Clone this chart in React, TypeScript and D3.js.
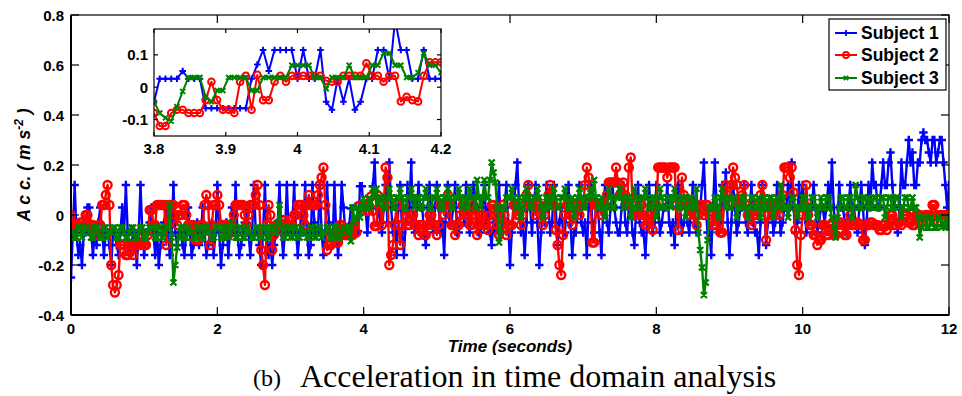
import React from 'react';
import * as d3 from 'd3';

// ---------- data ----------
const T_STEP = 0.025; // seconds between samples in the main view
const subject1 = [
  -0.25, -0.07, 0.12, -0.07, -0.16, -0.12, -0.2, -0.07, -0.07, 0.03, 0.03, -0.07, -0.16, -0.07, -0.12, -0.03, 0.03, -0.07, -0.16, -0.07, -0.07, -0.12, -0.2, -0.07, -0.07, -0.12, -0.16, -0.07, 0.03, -0.07, 0.12, -0.07, -0.16, -0.12, -0.07, -0.12, -0.2, -0.07, 0.12, -0.07,
  -0.16, -0.07, -0.07, -0.03, 0.03, -0.07, -0.16, -0.07, -0.2, -0.12, -0.07, -0.03, 0.03, -0.07, -0.16, -0.07, 0.12, -0.07, -0.12, -0.07, -0.07, -0.12, -0.16, -0.07, 0.03, -0.07, -0.16, -0.12, -0.07, -0.03, -0.12, -0.07, 0.03, -0.07, -0.16, -0.12, -0.07, -0.03, -0.16, -0.07,
  0.12, -0.07, -0.2, -0.12, -0.07, -0.03, -0.16, -0.07, 0.03, -0.07, 0.12, -0.07, -0.16, -0.12, -0.07, -0.03, 0.03, -0.07, -0.16, -0.07, 0.12, -0.07, -0.07, -0.12, -0.2, -0.07, 0.12, -0.07, -0.16, -0.12, -0.2, -0.12, -0.07, -0.03, 0.12, -0.07, -0.16, -0.07, 0.12, -0.07,
  -0.07, -0.03, 0.12, -0.07, -0.16, -0.07, 0.03, -0.07, 0.12, -0.07, -0.16, -0.12, 0.12, -0.03, -0.07, -0.07, 0.12, -0.07, -0.16, -0.07, 0.12, -0.03, -0.07, -0.12, 0.12, -0.07, -0.16, -0.07, 0.12, 0.03, -0.07, -0.07, -0.045, 0.026, 0.026, -0.065, -0.065, -0.065, 0.115, 0.115,
  0.026, 0.026, -0.07, 0.026, 0.026, 0.115, 0.21, 0.026, 0.026, -0.03, -0.07, 0.03, 0.12, -0.03, 0.21, 0.03, -0.07, -0.03, -0.16, 0.03, 0.12, -0.07, -0.16, -0.03, 0.12, 0.03, 0.21, -0.03, -0.07, 0.03, 0.12, 0.03, 0.03, -0.07, -0.12, 0.03, 0.12, -0.03, -0.07, 0.03,
  0.12, 0.03, -0.07, -0.03, -0.16, 0.03, 0.12, -0.03, -0.03, 0.03, 0.12, -0.07, -0.07, 0.03, 0.03, -0.03, 0.12, -0.03, -0.07, 0.03, 0.12, 0.03, -0.03, -0.07, -0.07, 0.03, 0.12, -0.03, 0.03, -0.07, -0.12, -0.03, -0.07, 0.03, 0.12, -0.03, -0.07, 0.03, 0.12, -0.03,
  -0.2, -0.07, 0.03, 0.12, 0.21, 0.03, -0.07, -0.03, -0.16, -0.03, 0.12, 0.03, -0.07, 0.03, 0.12, -0.03, -0.2, -0.07, 0.03, -0.03, 0.12, 0.03, -0.07, -0.03, 0.12, 0.03, -0.12, -0.03, 0.03, -0.07, -0.07, 0.03, 0.12, -0.03, -0.16, -0.07, -0.07, 0.03, 0.12, -0.03,
  -0.07, -0.03, -0.16, 0.03, 0.12, -0.03, -0.07, 0.03, 0.03, -0.07, -0.16, 0.03, 0.12, -0.03, -0.07, 0.03, 0.12, 0.03, -0.03, -0.07, -0.07, 0.03, 0.12, -0.03, -0.07, 0.03, 0.03, -0.07, -0.12, 0.03, 0.12, -0.03, -0.07, -0.07, -0.16, -0.03, 0.12, 0.03, -0.07, -0.03,
  0.12, 0.03, -0.07, -0.03, 0.03, 0.03, 0.12, -0.03, -0.07, -0.03, -0.12, 0.03, 0.12, 0.03, -0.07, -0.03, 0.03, -0.03, -0.07, 0.03, 0.12, -0.03, -0.07, 0.03, 0.03, 0.12, 0.21, 0.03, -0.07, -0.07, -0.16, 0.03, 0.21, 0.03, -0.07, -0.03, 0.12, 0.03, 0.17, -0.03,
  -0.16, -0.03, 0.12, 0.03, -0.07, -0.03, 0.03, 0.03, 0.12, -0.03, -0.07, 0.03, 0.12, -0.03, -0.07, -0.07, -0.16, -0.03, 0.12, 0.03, -0.12, -0.03, 0.03, 0.03, -0.07, -0.03, 0.12, 0.03, -0.07, -0.03, 0.03, 0.03, 0.12, 0.03, 0.21, 0.03, -0.07, -0.03, 0.12, 0.03,
  0.12, 0.03, -0.07, -0.03, 0.03, 0.03, 0.12, 0.03, -0.07, -0.03, 0.03, 0.03, -0.03, 0.03, 0.12, 0.03, 0.21, 0.03, -0.07, -0.03, 0.12, 0.03, 0.03, -0.03, -0.07, 0.03, 0.12, 0.03, 0.03, -0.03, -0.07, 0.03, 0.12, 0.03, -0.12, -0.03, 0.12, 0.03, 0.21, 0.12,
  0.12, 0.03, 0.03, 0.12, 0.21, 0.12, 0.12, 0.21, 0.25, 0.12, 0.03, -0.03, -0.07, 0.03, 0.21, 0.12, 0.12, 0.21, 0.3, 0.21, 0.25, 0.12, 0.12, 0.21, 0.21, 0.3, 0.33, 0.3, 0.3, 0.25, 0.21, 0.3, 0.3, 0.21, 0.25, 0.3, 0.3, 0.21, 0.12, 0.03,
  0.12,
];
const subject2 = [
  0.0, -0.04, -0.04, -0.04, -0.04, -0.03, -0.03, -0.04, 0.0, 0.0, -0.04, -0.04, -0.04, -0.08, -0.08, -0.04, -0.04, 0.04, 0.04, 0.08, 0.12, 0.04, -0.2, -0.28, -0.31, -0.28, -0.24, -0.12, -0.12, -0.12, -0.16, -0.16, -0.12, -0.12, -0.16, -0.12, -0.12, -0.12, -0.12, -0.08,
  -0.12, -0.12, -0.08, 0.02, 0.02, -0.04, -0.04, 0.04, 0.04, 0.04, 0.04, 0.04, -0.12, 0.04, 0.04, 0.04, 0.04, 0.0, -0.04, 0.0, 0.0, 0.04, 0.04, 0.0, -0.04, -0.04, -0.04, -0.04, -0.1, -0.1, -0.1, -0.04, -0.04, 0.04, 0.08, 0.04, -0.12, -0.04, 0.04, 0.04,
  0.08, 0.04, -0.04, -0.04, -0.04, -0.04, -0.08, -0.04, -0.04, 0.0, 0.04, 0.04, 0.04, 0.04, 0.04, 0.0, -0.04, 0.0, 0.04, 0.04, 0.04, 0.08, 0.12, 0.04, -0.14, -0.2, -0.28, -0.04, 0.04, 0.0, -0.14, -0.08, -0.04, -0.04, -0.06, -0.04, -0.02, -0.02, -0.04, -0.04,
  -0.04, -0.04, 0.0, 0.0, 0.04, 0.04, 0.04, 0.0, -0.04, 0.04, 0.08, 0.04, 0.04, 0.04, 0.04, 0.08, 0.12, 0.15, 0.19, 0.04, -0.14, -0.12, -0.12, -0.08, -0.08, -0.11, -0.11, -0.04, -0.04, -0.08, -0.08, -0.08, -0.08, -0.08, -0.08, -0.04, -0.07, 0.035, 0.038, 0.017,
  0.035, 0.035, 0.017, 0.035, 0.074, 0.017, -0.044, -0.044, 0.077, 0.04, -0.04, 0.04, 0.19, 0.15, -0.2, -0.16, -0.12, -0.04, 0.04, -0.04, -0.12, -0.04, 0.04, 0.0, -0.04, -0.04, 0.0, 0.0, -0.04, -0.04, -0.08, -0.04, -0.04, -0.08, -0.08, -0.04, 0.0, 0.0, -0.04, -0.04,
  -0.08, -0.04, 0.04, 0.04, 0.0, 0.04, 0.08, 0.04, -0.04, -0.04, -0.08, -0.04, -0.04, 0.0, 0.04, 0.04, 0.0, 0.0, -0.04, -0.04, 0.04, 0.0, -0.08, -0.04, 0.0, 0.0, -0.04, -0.04, -0.06, 0.0, 0.04, 0.04, 0.0, -0.04, -0.08, -0.04, 0.04, 0.0, -0.08, -0.04,
  -0.04, -0.04, 0.04, 0.04, 0.0, 0.0, -0.04, 0.0, 0.04, 0.08, 0.12, 0.04, 0.04, 0.04, 0.0, 0.04, 0.04, 0.0, -0.04, 0.0, 0.04, 0.08, 0.12, 0.04, 0.04, -0.06, -0.12, -0.2, -0.24, -0.08, 0.0, 0.04, 0.04, 0.0, -0.04, 0.0, 0.04, 0.04, 0.0, 0.04,
  0.04, 0.12, 0.19, 0.15, 0.07, -0.11, -0.11, 0.04, 0.04, 0.04, 0.0, 0.04, 0.04, 0.08, 0.13, 0.13, 0.13, 0.13, 0.19, 0.13, 0.08, 0.08, 0.13, 0.08, 0.04, 0.19, 0.23, 0.04, 0.0, 0.0, 0.0, 0.04, 0.04, 0.0, -0.04, -0.04, 0.0, 0.0, -0.06, 0.04,
  0.04, 0.19, 0.19, 0.19, 0.19, 0.19, 0.15, 0.19, 0.19, 0.19, 0.19, 0.04, -0.06, 0.04, 0.15, 0.08, 0.04, 0.04, 0.0, 0.04, 0.04, 0.0, -0.04, 0.0, 0.04, 0.04, 0.0, 0.04, 0.04, 0.0, 0.0, -0.04, -0.04, 0.0, 0.0, -0.07, -0.07, 0.04, 0.12, 0.08,
  0.05, 0.12, 0.19, 0.15, 0.12, 0.04, 0.04, 0.08, 0.12, 0.04, 0.0, 0.0, -0.04, 0.0, 0.0, 0.04, 0.04, 0.08, 0.12, 0.04, -0.1, 0.0, 0.04, 0.04, 0.0, 0.04, 0.04, 0.0, 0.04, 0.08, 0.19, 0.19, 0.19, 0.15, 0.19, 0.09, -0.06, -0.2, -0.24, -0.08,
  0.0, 0.04, 0.12, 0.0, -0.04, -0.04, -0.08, -0.08, -0.12, -0.1, -0.1, -0.04, -0.04, -0.08, -0.08, -0.04, -0.04, -0.08, -0.08, -0.04, -0.03, -0.03, -0.04, -0.08, -0.08, -0.04, 0.0, -0.04, -0.04, -0.04, -0.03, -0.04, -0.04, -0.1, -0.1, -0.04, -0.04, -0.03, -0.03, -0.04,
  -0.04, -0.04, -0.06, -0.06, -0.04, -0.04, -0.06, -0.04, 0.0, 0.0, -0.04, -0.04, -0.03, -0.03, -0.04, 0.0, 0.0, 0.0, -0.03, -0.03, -0.04, -0.04, 0.0, 0.0, 0.0, -0.03, -0.03, 0.0, 0.0, 0.0, 0.0, 0.04, 0.04, 0.0, -0.03, 0.0, 0.0, 0.0, 0.0, 0.0,
  0.0,
];
const subject3 = [
  -0.07, -0.07, -0.09, -0.09, -0.05, -0.05, -0.09, -0.07, -0.05, -0.05, -0.07, -0.09, -0.09, -0.05, -0.05, -0.07, -0.09, -0.09, -0.05, -0.05, -0.09, -0.07, -0.07, -0.05, -0.05, -0.09, -0.09, -0.05, -0.05, -0.07, -0.09, -0.09, -0.07, -0.05, -0.05, -0.09, -0.09, -0.07, -0.05, -0.05,
  -0.09, -0.09, -0.07, -0.05, -0.05, -0.05, -0.09, -0.09, -0.05, -0.05, -0.09, -0.07, -0.05, -0.05, 0.04, -0.09, -0.27, -0.2, -0.13, -0.09, -0.05, -0.05, -0.09, -0.09, -0.05, -0.07, -0.07, -0.09, -0.09, -0.05, -0.05, -0.09, -0.09, -0.05, -0.05, -0.07, -0.07, -0.09, -0.09, -0.05,
  -0.05, -0.05, -0.09, -0.09, -0.05, -0.05, -0.09, -0.07, -0.03, -0.05, -0.09, -0.09, -0.05, -0.05, -0.09, -0.09, -0.05, -0.07, -0.07, -0.09, -0.09, -0.05, -0.05, -0.09, -0.09, -0.05, -0.05, -0.09, -0.09, -0.05, -0.05, -0.07, -0.07, -0.03, 0.04, -0.05, -0.09, -0.09, -0.05, -0.05,
  -0.09, -0.09, -0.05, -0.05, -0.09, -0.09, -0.05, -0.07, -0.07, -0.09, -0.09, -0.05, -0.05, -0.09, -0.09, -0.05, -0.05, -0.09, -0.07, -0.07, -0.05, -0.05, -0.09, -0.09, -0.05, -0.05, -0.09, -0.09, -0.07, -0.05, -0.05, -0.07, -0.045, -0.105, 0.03, -0.03, -0.01, 0.03, -0.01, 0.03,
  0.068, 0.03, 0.03, 0.068, 0.03, 0.105, 0.068, 0.105, 0.045, 0.07, 0.07, 0.03, 0.03, 0.07, 0.105, 0.07, 0.03, 0.03, 0.07, 0.07, 0.105, 0.07, 0.03, 0.03, 0.07, 0.07, 0.105, 0.07, 0.03, 0.07, 0.07, 0.03, 0.03, 0.07, 0.105, 0.07, 0.03, 0.03, 0.07, 0.07,
  0.105, 0.07, 0.03, 0.03, 0.07, 0.07, 0.105, 0.07, 0.03, 0.03, 0.07, 0.07, 0.105, 0.07, 0.03, 0.07, 0.07, 0.03, 0.105, 0.07, 0.07, 0.03, 0.14, 0.07, 0.03, 0.07, 0.14, 0.07, 0.07, 0.14, 0.21, 0.17, 0.13, 0.03, -0.11, -0.07, 0.03, 0.03, 0.07, 0.07,
  0.07, 0.105, 0.07, 0.03, 0.03, 0.07, -0.01, 0.03, 0.07, 0.105, 0.07, 0.03, 0.03, 0.07, 0.07, 0.105, 0.07, 0.03, -0.01, 0.03, 0.07, 0.07, 0.03, 0.07, 0.105, 0.07, 0.03, 0.03, 0.07, 0.07, 0.105, 0.07, 0.03, 0.03, 0.07, -0.01, 0.03, 0.07, 0.105, 0.07,
  0.03, 0.03, 0.07, 0.07, 0.105, 0.07, 0.14, 0.07, 0.03, 0.03, 0.07, 0.03, -0.01, 0.03, 0.105, 0.07, 0.03, 0.03, 0.07, 0.07, 0.105, 0.07, 0.03, 0.03, 0.07, 0.07, -0.01, 0.03, 0.105, 0.07, 0.03, 0.03, 0.07, 0.07, 0.105, 0.07, 0.03, 0.03, 0.07, 0.07,
  -0.01, 0.03, 0.105, 0.07, 0.03, 0.03, 0.07, 0.07, 0.03, 0.07, 0.105, 0.07, 0.03, 0.03, 0.07, 0.07, -0.01, 0.03, 0.07, 0.07, 0.03, 0.03, 0.105, -0.07, -0.14, -0.21, -0.32, -0.27, -0.1, 0.03, 0.03, 0.03, 0.07, 0.03, -0.01, 0.07, 0.105, 0.07, 0.03, 0.07,
  0.03, 0.03, 0.07, 0.07, -0.01, 0.03, 0.03, 0.07, 0.07, 0.03, -0.01, 0.03, 0.07, 0.07, 0.03, 0.03, 0.07, -0.01, 0.03, 0.07, 0.03, 0.03, 0.07, 0.07, -0.01, 0.03, 0.07, 0.03, 0.12, 0.07, 0.03, 0.03, -0.01, 0.03, 0.07, 0.07, 0.03, -0.01, 0.03, 0.03,
  0.07, 0.07, 0.03, -0.01, 0.03, 0.07, 0.07, 0.03, -0.01, 0.03, 0.07, 0.03, 0.03, 0.07, 0.07, 0.03, -0.01, -0.05, -0.09, -0.01, 0.03, 0.07, 0.07, 0.03, 0.03, 0.07, 0.07, -0.01, 0.03, 0.12, 0.07, 0.03, 0.03, 0.07, 0.07, 0.03, 0.07, 0.03, 0.03, 0.07,
  0.07, 0.03, 0.03, 0.07, 0.07, -0.01, 0.03, 0.07, 0.07, 0.03, 0.03, 0.07, 0.07, 0.03, -0.01, 0.03, 0.07, 0.07, 0.03, 0.03, 0.07, 0.03, 0.03, -0.01, -0.09, -0.05, -0.01, -0.01, -0.05, -0.05, -0.01, -0.03, -0.05, -0.05, -0.01, -0.01, -0.05, -0.03, -0.05, -0.01,
  -0.05,
];

// inset (zoom on 3.8 s – 4.2 s, full sample rate)
const INSET_START = 3.8;
const INSET_END = 4.2;
const insetSubject1 = [
  -0.045, 0.026, 0.026, 0.026, 0.026, 0.05, 0.026, 0.026, 0.026, -0.065, -0.065, -0.065, -0.065, -0.065, -0.065, -0.065, -0.065,
  0.026, 0.07, 0.115, 0.05, 0.115, 0.115, 0.115, 0.115, 0.026, 0.115, 0.026, 0.026, 0.115, -0.045, -0.07, 0.026, -0.045, 0.026,
  -0.07, -0.045, 0.026, 0.026, 0.115, 0.115, 0.026, 0.21, 0.115, 0.115, 0.026, 0.026, 0.115, 0.026, 0.026, 0.026,
];
const insetSubject2 = [
  -0.08, -0.12, -0.12, -0.08, -0.07, -0.07, -0.08, -0.08, -0.08, -0.04, 0.017, -0.04, -0.07, -0.07, -0.08, 0.017, 0.035,
  -0.07, 0.038, -0.04, -0.04, 0.017, 0.035, 0.017, 0.035, 0.035, 0.035, 0.035, 0.035, 0.035, 0.02, 0.017, 0.017, 0.035,
  0.035, 0.035, 0.035, 0.074, 0.035, 0.035, 0.017, 0.035, 0.035, -0.044, -0.03, -0.04, -0.044, 0.035, 0.077, 0.077, 0.077,
];
const insetSubject3 = [
  -0.045, -0.08, -0.095, -0.105, -0.06, -0.013, 0.03, 0.03, 0.03, -0.03, -0.045, -0.01, -0.01, 0.03, 0.03, 0.03, 0.03,
  -0.01, -0.01, 0.03, 0.03, 0.03, 0.03, 0.03, 0.068, 0.068, 0.068, 0.068, 0.03, 0.03, -0.005, 0.03, 0.03, 0.03,
  0.068, 0.03, 0.03, 0.03, 0.068, 0.068, 0.105, 0.105, 0.068, 0.068, 0.03, 0.03, 0.045, 0.105, 0.068, 0.068, 0.045,
];

const seriesNames = ['Subject 1', 'Subject 2', 'Subject 3'];
const seriesColors = ['#0000ff', '#ff0000', '#008000'];
const seriesMarkers = ['plus', 'circle', 'cross'];

const xTicks = [0, 2, 4, 6, 8, 10, 12];
const yTicks = [-0.4, -0.2, 0, 0.2, 0.4, 0.6, 0.8];
const insetXTicks = [3.8, 3.9, 4, 4.1, 4.2];
const insetYTicks = [-0.1, 0, 0.1];

// ---------- layout ----------
const W = 962;
const H = 396;
const M = { left: 71, right: 949, top: 15, bottom: 315 };
const IN = { left: 154, right: 441, top: 29, bottom: 136 };
const FONT = 'Arial, "Liberation Sans", Helvetica, sans-serif';
const SERIF = '"Liberation Serif", "Times New Roman", serif';

const x = d3.scaleLinear().domain([0, 12]).range([M.left, M.right]);
const y = d3.scaleLinear().domain([-0.4, 0.8]).range([M.bottom, M.top]);
const xi = d3.scaleLinear().domain([INSET_START, INSET_END]).range([IN.left, IN.right]);
const yi = d3.scaleLinear().domain([-0.151, 0.18]).range([IN.bottom, IN.top]);

type Pt = [number, number];

function markerPath(kind: string, pts: Pt[], r: number): string {
  let d = '';
  for (const [px, py] of pts) {
    if (kind === 'plus') d += `M${px - r},${py}H${px + r}M${px},${py - r}V${py + r}`;
    else if (kind === 'cross') d += `M${px - r},${py - r}L${px + r},${py + r}M${px - r},${py + r}L${px + r},${py - r}`;
  }
  return d;
}

function Series({ pts, color, marker, lw, mr }: { pts: Pt[]; color: string; marker: string; lw: number; mr: number }) {
  const line = d3.line<Pt>().x((d) => d[0]).y((d) => d[1]);
  return (
    <g>
      <path d={line(pts) || ''} fill="none" stroke={color} strokeWidth={lw} strokeLinejoin="round" />
      {marker === 'circle' ? (
        pts.map((p, i) => <circle key={i} cx={p[0]} cy={p[1]} r={mr} fill="none" stroke={color} strokeWidth={lw} />)
      ) : (
        <path d={markerPath(marker, pts, mr)} fill="none" stroke={color} strokeWidth={lw} />
      )}
    </g>
  );
}

const fmt = (v: number) => String(+v.toFixed(2));

export default function App() {
  const mainData = [subject1, subject2, subject3];
  const insetData = [insetSubject1, insetSubject2, insetSubject3];
  const mainPts = mainData.map((arr) => arr.map((v, i) => [x(i * T_STEP), y(v)] as Pt));
  const insetPts = insetData.map((arr) =>
    arr.map((v, i) => [xi(INSET_START + (i * (INSET_END - INSET_START)) / (arr.length - 1)), yi(v)] as Pt)
  );
  const TL = 8;
  const TLI = 4;
  const legendRows = [33, 55, 78];

  return (
    <div style={{ position: 'absolute', left: 0, top: 0, width: W, height: H, background: '#fff' }}>
      <svg width={W} height={H} style={{ display: 'block' }}>
        <rect x={0} y={0} width={W} height={H} fill="#fff" />
        <defs>
          <clipPath id="mainClip">
            <rect x={M.left} y={M.top} width={M.right - M.left} height={M.bottom - M.top} />
          </clipPath>
          <clipPath id="insetClip">
            <rect x={IN.left} y={IN.top} width={IN.right - IN.left} height={IN.bottom - IN.top} />
          </clipPath>
        </defs>

        {/* main series */}
        <g clipPath="url(#mainClip)">
          {mainPts.map((pts, k) => (
            <Series key={k} pts={pts} color={seriesColors[k]} marker={seriesMarkers[k]} lw={2.4} mr={k === 1 ? 4 : k === 0 ? 4.2 : 3} />
          ))}
        </g>

        {/* main axes box and ticks */}
        <g stroke="#000" strokeWidth={1.2} fill="none">
          <rect x={M.left} y={M.top} width={M.right - M.left} height={M.bottom - M.top} />
          {xTicks.map((t) => (
            <g key={'xt' + t}>
              <line x1={x(t)} x2={x(t)} y1={M.bottom} y2={M.bottom - TL} />
              <line x1={x(t)} x2={x(t)} y1={M.top} y2={M.top + TL} />
            </g>
          ))}
          {yTicks.map((t) => (
            <g key={'yt' + t}>
              <line x1={M.left} x2={M.left + TL} y1={y(t)} y2={y(t)} />
              <line x1={M.right} x2={M.right - TL} y1={y(t)} y2={y(t)} />
            </g>
          ))}
        </g>
        <line x1={M.left} x2={M.left} y1={M.top} y2={M.bottom} stroke="#000" strokeWidth={2} />
        <line x1={M.left} x2={M.right} y1={M.bottom} y2={M.bottom} stroke="#000" strokeWidth={2} />
        <g fontFamily={FONT} fontWeight="bold" fontSize={15} fill="#000">
          {xTicks.map((t) => (
            <text key={'xl' + t} x={x(t)} y={334} textAnchor="middle">{fmt(t)}</text>
          ))}
          {yTicks.map((t) => (
            <text key={'yl' + t} x={64} y={y(t) + 5.5} textAnchor="end">{fmt(t)}</text>
          ))}
        </g>

        {/* axis labels */}
        <text x={(M.left + M.right) / 2} y={352} textAnchor="middle" fontFamily={FONT} fontWeight="bold" fontStyle="italic" fontSize={17}>
          Time (seconds)
        </text>
        <text transform={`translate(30,${165}) rotate(-90)`} textAnchor="middle" fontFamily={FONT} fontWeight="bold" fontStyle="italic" fontSize={17.5}>
          <tspan>A c c. ( m s</tspan>
          <tspan fontSize={12} dy={-7}>-2</tspan>
          <tspan dy={7}> )</tspan>
        </text>

        {/* inset */}
        <rect x={IN.left} y={IN.top} width={IN.right - IN.left} height={IN.bottom - IN.top} fill="#fff" />
        <g clipPath="url(#insetClip)">
          {insetPts.map((pts, k) => (
            <Series key={k} pts={pts} color={seriesColors[k]} marker={seriesMarkers[k]} lw={2} mr={k === 1 ? 3.3 : k === 0 ? 3.3 : 2.5} />
          ))}
        </g>
        <g stroke="#000" strokeWidth={1.2} fill="none">
          <rect x={IN.left} y={IN.top} width={IN.right - IN.left} height={IN.bottom - IN.top} />
          {insetXTicks.map((t) => (
            <g key={'ixt' + t}>
              <line x1={xi(t)} x2={xi(t)} y1={IN.bottom} y2={IN.bottom - TLI} />
              <line x1={xi(t)} x2={xi(t)} y1={IN.top} y2={IN.top + TLI} />
            </g>
          ))}
          {insetYTicks.map((t) => (
            <g key={'iyt' + t}>
              <line x1={IN.left} x2={IN.left + TLI} y1={yi(t)} y2={yi(t)} />
              <line x1={IN.right} x2={IN.right - TLI} y1={yi(t)} y2={yi(t)} />
            </g>
          ))}
        </g>
        <g fontFamily={FONT} fontWeight="bold" fontSize={15} fill="#000">
          {insetXTicks.map((t) => (
            <text key={'ixl' + t} x={xi(t)} y={154} textAnchor="middle">{fmt(t)}</text>
          ))}
          {insetYTicks.map((t) => (
            <text key={'iyl' + t} x={148} y={yi(t) + 5.5} textAnchor="end">{fmt(t)}</text>
          ))}
        </g>

        {/* legend */}
        <rect x={829} y={19} width={117} height={71} fill="#fff" stroke="#000" strokeWidth={1.2} />
        {seriesNames.map((name, k) => {
          const ly = legendRows[k];
          const pts: Pt[] = [[846, ly]];
          return (
            <g key={name}>
              <line x1={835} x2={857} y1={ly} y2={ly} stroke={seriesColors[k]} strokeWidth={2} />
              <Series pts={pts} color={seriesColors[k]} marker={seriesMarkers[k]} lw={1.8} mr={k === 2 ? 2.2 : 3} />
              <text x={861} y={ly + 6} fontFamily={FONT} fontWeight="bold" fontSize={17.5} fill="#000">{name}</text>
            </g>
          );
        })}

        {/* caption */}
        <text x={253} y={386} fontFamily={SERIF} fontSize={24} fill="#000">(b)</text>
        <text x={300} y={387} fontFamily={SERIF} fontSize={32} fill="#000">
          Acceleration in time domain analysis
        </text>
      </svg>
    </div>
  );
}
